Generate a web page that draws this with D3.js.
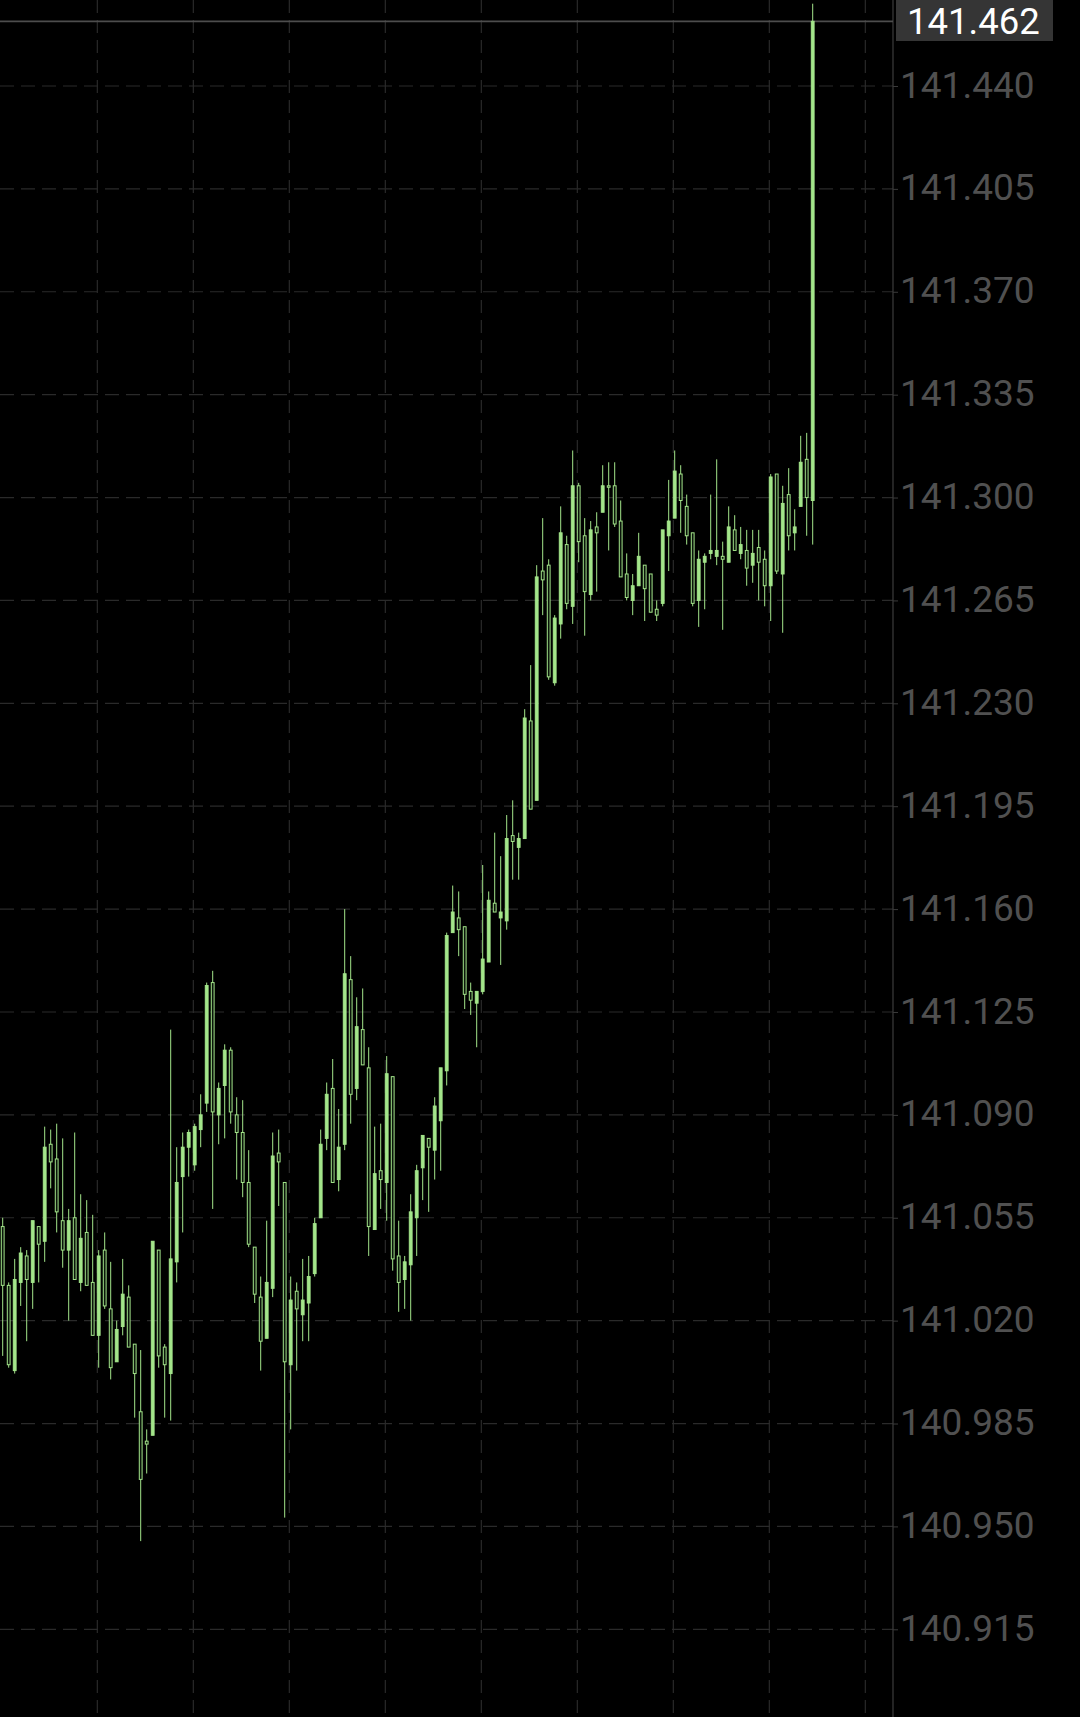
<!DOCTYPE html>
<html>
<head>
<meta charset="utf-8">
<script src="https://cdn.jsdelivr.net/npm/d3@7"></script>
<style>
  html, body { margin: 0; padding: 0; background: #000; }
  svg { display: block; }
</style>
</head>
<body>
<svg id="chart" width="1080" height="1717"></svg>
<script>
// ---- data ----
const opens = [
141.052,141.032,141.003,141.033,141.042,141.033,141.052,141.047,141.080,141.075,
141.054,141.044,141.055,141.033,141.050,141.033,141.015,141.044,141.024,141.006,
141.018,141.028,141.012,140.989,140.979,140.981,141.044,141.011,141.002,141.040,
141.069,141.079,141.073,141.085,141.094,141.135,141.090,141.100,141.112,141.090,
141.084,141.067,141.045,141.028,141.014,141.031,141.077,141.067,141.005,141.030,
141.022,141.026,141.036,141.055,141.082,141.099,141.068,141.080,141.136,141.099,
141.119,141.106,141.051,141.071,141.067,141.103,141.042,141.034,141.039,141.055,
141.072,141.082,141.078,141.088,141.105,141.152,141.157,141.154,141.132,141.128,
141.132,141.142,141.162,141.157,141.156,141.185,141.181,141.184,141.224,141.197,
141.275,141.277,141.237,141.257,141.284,141.263,141.304,141.287,141.267,141.290,
141.295,141.304,141.304,141.292,141.274,141.265,141.270,141.277,141.274,141.262,
141.264,141.287,141.293,141.308,141.297,141.288,141.265,141.278,141.281,141.280,
141.280,141.278,141.289,141.281,141.282,141.277,141.283,141.279,141.270,141.308,
141.274,141.301,141.288,141.297,141.313,141.299];
const highs = [
141.055,141.033,141.041,141.045,141.044,141.054,141.052,141.086,141.085,141.087,
141.082,141.058,141.084,141.063,141.061,141.056,141.044,141.050,141.040,141.020,
141.041,141.032,141.012,141.010,140.983,141.047,141.044,141.012,141.119,141.079,
141.084,141.085,141.087,141.097,141.135,141.139,141.101,141.114,141.113,141.096,
141.095,141.078,141.045,141.035,141.054,141.084,141.085,141.067,141.035,141.033,
141.041,141.042,141.055,141.085,141.101,141.109,141.092,141.160,141.144,141.130,
141.133,141.113,141.086,141.087,141.110,141.103,141.054,141.042,141.063,141.073,
141.083,141.082,141.096,141.106,141.152,141.168,141.166,141.154,141.135,141.132,
141.175,141.166,141.186,141.178,141.192,141.197,141.186,141.228,141.243,141.277,
141.293,141.279,141.260,141.297,141.287,141.316,141.305,141.293,141.292,141.295,
141.311,141.312,141.312,141.299,141.281,141.274,141.288,141.277,141.274,141.265,
141.289,141.306,141.316,141.311,141.301,141.288,141.282,141.281,141.301,141.313,
141.285,141.297,141.294,141.290,141.289,141.289,141.289,141.282,141.308,141.308,
141.304,141.310,141.296,141.321,141.322,141.468];
const lows = [
141.008,141.004,141.002,141.025,141.013,141.024,141.033,141.040,141.065,141.050,
141.038,141.020,141.034,141.030,141.032,141.015,141.004,141.024,141.000,141.006,
141.015,141.011,140.987,140.945,140.968,140.981,141.004,140.987,140.986,141.033,
141.050,141.069,141.071,141.079,141.091,141.058,141.080,141.082,141.087,141.068,
141.062,141.045,141.026,141.003,141.014,141.028,141.059,140.953,140.983,141.003,
141.013,141.013,141.035,141.055,141.078,141.067,141.064,141.078,141.087,141.095,
141.107,141.042,141.051,141.058,141.054,141.037,141.023,141.024,141.020,141.042,
141.061,141.057,141.068,141.071,141.100,141.152,141.144,141.126,141.124,141.113,
141.131,141.142,141.159,141.141,141.153,141.170,141.170,141.184,141.194,141.197,
141.260,141.238,141.236,141.252,141.262,141.257,141.278,141.253,141.265,141.268,
141.295,141.282,141.290,141.273,141.265,141.260,141.270,141.258,141.261,141.258,
141.263,141.275,141.293,141.288,141.284,141.263,141.256,141.262,141.279,141.277,
141.255,141.278,141.282,141.279,141.270,141.271,141.265,141.263,141.258,141.274,
141.254,141.282,141.282,141.297,141.287,141.284];
const closes = [
141.032,141.005,141.034,141.043,141.034,141.054,141.046,141.079,141.074,141.057,
141.044,141.054,141.034,141.048,141.032,141.015,141.042,141.025,141.004,141.017,
141.029,141.011,141.002,140.966,140.978,141.047,141.008,141.005,141.041,141.067,
141.079,141.084,141.086,141.090,141.134,141.091,141.099,141.112,141.091,141.084,
141.067,141.046,141.029,141.013,141.033,141.076,141.074,141.006,141.027,141.024,
141.027,141.035,141.053,141.080,141.097,141.067,141.079,141.138,141.097,141.120,
141.107,141.052,141.070,141.068,141.104,141.041,141.033,141.040,141.057,141.071,
141.083,141.079,141.093,141.106,141.151,141.159,141.153,141.131,141.129,141.132,
141.143,141.163,141.159,141.159,141.184,141.183,141.184,141.225,141.194,141.273,
141.272,141.239,141.259,141.288,141.264,141.304,141.285,141.268,141.289,141.288,
141.304,141.3035,141.291,141.273,141.266,141.270,141.280,141.269,141.261,141.260,
141.289,141.292,141.309,141.299,141.287,141.264,141.279,141.280,141.282,141.282,
141.279,141.290,141.282,141.284,141.276,141.281,141.278,141.270,141.307,141.275,
141.298,141.287,141.290,141.312,141.300,141.462];
const yTickValues = [141.440,141.405,141.370,141.335,141.300,141.265,141.230,141.195,
                     141.160,141.125,141.090,141.055,141.020,140.985,140.950,140.915];
const timeGridIndex = [15.77,31.77,47.77,63.77,79.77,95.77,111.77,127.77,143.77];
const currentPrice = 141.462;

// ---- drawing ----
const W = 1080, H = 1717;
const plotRight = 893;
const candleColor = "#a3e58a";
const svg = d3.select("#chart");
svg.append("rect").attr("width", W).attr("height", H).attr("fill", "#000");

const x = d3.scaleLinear().domain([0, opens.length - 1]).range([2.7, 812.7]);
const y = d3.scaleLinear().domain([140.915, 141.440]).range([1629.3, 86]);

// vertical dashed grid
svg.append("g").selectAll("line").data(timeGridIndex).join("line")
  .attr("x1", d => x(d)).attr("x2", d => x(d))
  .attr("y1", 0).attr("y2", H)
  .attr("stroke", "#2a2a2a").attr("stroke-width", 1.2)
  .attr("stroke-dasharray", "13,7");

// horizontal dashed grid
svg.append("g").selectAll("line").data(yTickValues).join("line")
  .attr("x1", 0).attr("x2", plotRight)
  .attr("y1", d => y(d)).attr("y2", d => y(d))
  .attr("stroke", "#2a2a2a").attr("stroke-width", 1.2)
  .attr("stroke-dasharray", "14,7");

// right axis
const axis = d3.axisRight(y).tickValues(yTickValues)
  .tickFormat(d3.format(".3f")).tickSize(5).tickPadding(2);
const gAxis = svg.append("g").attr("transform", `translate(${plotRight},0)`).call(axis);
gAxis.select(".domain").remove();
gAxis.selectAll(".tick line").attr("stroke", "#3a3a3a");
gAxis.selectAll(".tick text")
  .attr("fill", "#505050")
  .attr("font-family", "Roboto, 'Noto Sans', sans-serif")
  .attr("font-size", 37)
  .attr("dy", "0.3em");
svg.append("line")
  .attr("x1", plotRight).attr("x2", plotRight).attr("y1", 0).attr("y2", H)
  .attr("stroke", "#3c3c3c").attr("stroke-width", 1.2);

// current price line
svg.append("line")
  .attr("x1", 0).attr("x2", plotRight)
  .attr("y1", y(currentPrice)).attr("y2", y(currentPrice))
  .attr("stroke", "#4d4d4d").attr("stroke-width", 1.6);

// candles
const idx = d3.range(opens.length);
const gC = svg.append("g");
gC.selectAll("line.wick").data(idx).join("line").attr("class", "wick")
  .attr("x1", i => x(i)).attr("x2", i => x(i))
  .attr("y1", i => y(highs[i])).attr("y2", i => y(lows[i]))
  .attr("stroke", candleColor).attr("stroke-width", 1);
gC.selectAll("rect.body").data(idx).join("rect").attr("class", "body")
  .attr("x", i => x(i) - 1.4)
  .attr("width", 2.8)
  .attr("y", i => y(Math.max(opens[i], closes[i])))
  .attr("height", i => Math.max(1, Math.abs(y(opens[i]) - y(closes[i]))))
  .attr("fill", i => closes[i] >= opens[i] ? candleColor : "#0a140a")
  .attr("stroke", candleColor).attr("stroke-width", 1);

// current price label
const lbl = svg.append("g");
lbl.append("rect").attr("x", 896).attr("y", 0)
  .attr("width", 157).attr("height", 41).attr("fill", "#353535");
lbl.append("text").attr("x", 907).attr("y", 33.5)
  .attr("fill", "#ffffff")
  .attr("font-family", "Roboto, 'Noto Sans', sans-serif")
  .attr("font-size", 36.5)
  .text(d3.format(".3f")(currentPrice));
</script>
</body>
</html>
